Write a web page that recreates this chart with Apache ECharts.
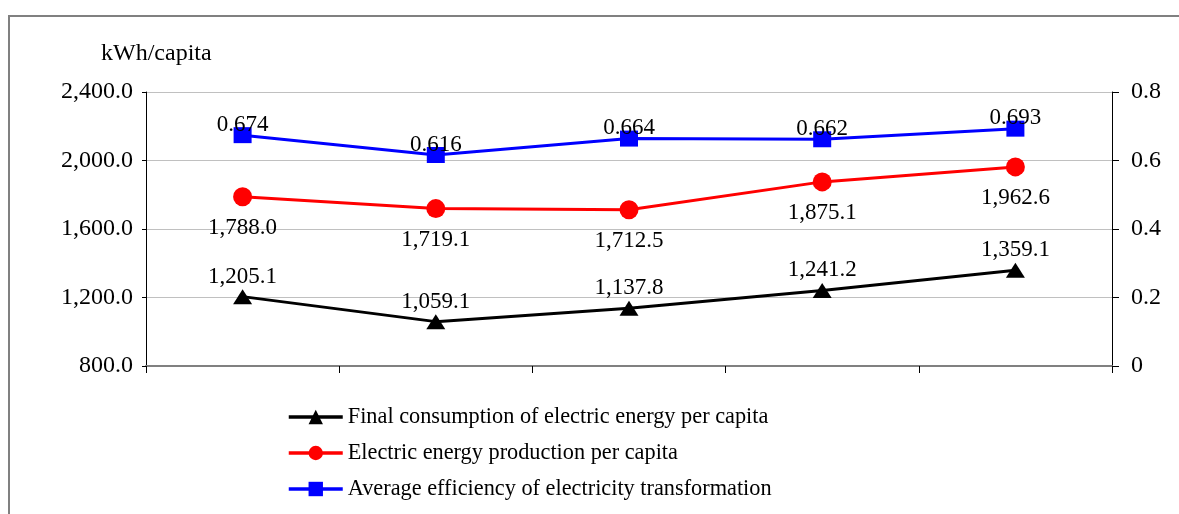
<!DOCTYPE html>
<html>
<head>
<meta charset="utf-8">
<script src="https://cdn.jsdelivr.net/npm/echarts@6/dist/echarts.min.js"></script>
<style>
  html, body { margin: 0; padding: 0; background: #fff; }
  #chart { width: 1179px; height: 514px; }
</style>
</head>
<body>
<div id="chart"></div>
<script>
// categories (x labels are not shown in the original)
const categories = ['1', '2', '3', '4', '5'];
const consumption = [1205.1, 1059.1, 1137.8, 1241.2, 1359.1];
const production = [1788.0, 1719.1, 1712.5, 1875.1, 1962.6];
const efficiency = [0.674, 0.616, 0.664, 0.662, 0.693];
const seriesNames = [
  'Final consumption of electric energy per capita',
  'Electric energy production per capita',
  'Average efficiency of electricity transformation'
];

const FONT = '"Liberation Serif", "DejaVu Serif", serif';
const FS = 23;
const fmt1 = v => v.toLocaleString('en-US', { minimumFractionDigits: 1, maximumFractionDigits: 1 });

let myChart = echarts.init(document.getElementById('chart'));
myChart.setOption({
  animation: false,
  textStyle: { fontFamily: FONT },
  title: {
    text: 'kWh/capita',
    left: 96,
    top: 37,
    textStyle: { fontFamily: FONT, fontSize: 24, fontWeight: 'normal', color: '#000' }
  },
  graphic: [{
    type: 'rect',
    shape: { x: 9, y: 16, width: 1200, height: 540 },
    style: { fill: 'none', stroke: '#808080', lineWidth: 2 },
    silent: true
  }],
  legend: {
    orient: 'vertical',
    left: 282,
    top: 401,
    itemWidth: 54,
    itemHeight: 18,
    itemGap: 14,
    lineStyle: { width: 3.5 },
    textStyle: { fontFamily: FONT, fontSize: 22.3, color: '#000' },
    data: seriesNames
  },
  grid: { left: 146, right: 67, top: 92, height: 274 },
  xAxis: {
    type: 'category',
    data: categories,
    boundaryGap: true,
    axisLine: { lineStyle: { color: '#808080', width: 2 } },
    axisTick: { show: true, length: 7, lineStyle: { color: '#000' } },
    axisLabel: { show: false },
    splitLine: { show: false }
  },
  yAxis: [{
    type: 'value',
    min: 800,
    max: 2400,
    interval: 400,
    axisLine: { show: true, lineStyle: { color: '#000' } },
    axisTick: { show: true, length: 4, lineStyle: { color: '#000' } },
    axisLabel: { formatter: fmt1, fontFamily: FONT, fontSize: 24, color: '#000', margin: 13 },
    splitLine: { lineStyle: { color: '#c0c0c0', width: 1 } }
  }, {
    type: 'value',
    min: 0,
    max: 0.8,
    interval: 0.2,
    position: 'right',
    axisLine: { show: true, lineStyle: { color: '#000' } },
    axisTick: { show: true, length: 7, lineStyle: { color: '#000' } },
    axisLabel: { fontFamily: FONT, fontSize: 24, color: '#000', margin: 19 },
    splitLine: { show: false }
  }],
  series: [{
    name: seriesNames[0],
    type: 'line',
    yAxisIndex: 0,
    data: consumption,
    color: '#000',
    lineStyle: { width: 3 },
    symbol: 'triangle',
    symbolSize: [19, 15],
    label: {
      show: true, position: 'top', distance: 1,
      formatter: p => fmt1(p.value),
      fontFamily: FONT, fontSize: FS, color: '#000'
    }
  }, {
    name: seriesNames[1],
    type: 'line',
    yAxisIndex: 0,
    data: production,
    color: '#ff0000',
    lineStyle: { width: 3 },
    symbol: 'circle',
    symbolSize: 19,
    label: {
      show: true, position: 'bottom', distance: 10,
      formatter: p => fmt1(p.value),
      fontFamily: FONT, fontSize: FS, color: '#000'
    }
  }, {
    name: seriesNames[2],
    type: 'line',
    yAxisIndex: 1,
    data: efficiency,
    color: '#0000ff',
    lineStyle: { width: 3 },
    symbol: 'rect',
    symbolSize: [18, 16],
    label: {
      show: true, position: 'top', distance: -9,
      formatter: p => p.value.toFixed(3),
      fontFamily: FONT, fontSize: FS, color: '#000'
    }
  }]
});
</script>
</body>
</html>
